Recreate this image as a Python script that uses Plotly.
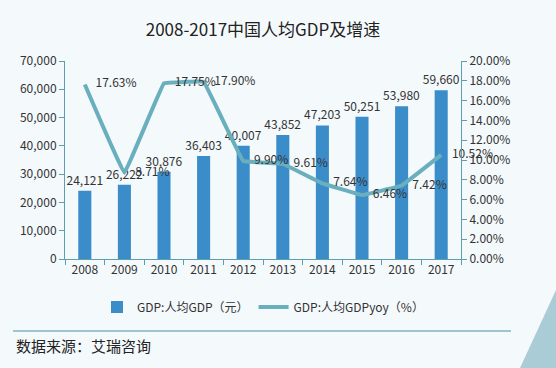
import plotly.graph_objects as go

years = ["2008", "2009", "2010", "2011", "2012", "2013", "2014", "2015", "2016", "2017"]
gdp_per_capita = [24121, 26222, 30876, 36403, 40007, 43852, 47203, 50251, 53980, 59660]
gdp_yoy = [17.63, 8.71, 17.75, 17.90, 9.90, 9.61, 7.64, 6.46, 7.42, 10.52]

bar_name = "GDP:人均GDP（元）"
line_name = "GDP:人均GDPyoy（%）"
title = "2008-2017中国人均GDP及增速"
source = "数据来源：艾瑞咨询"

W, H = 556, 368
L, R, T, B = 65, 95, 61, 109
pw, ph = W - L - R, H - T - B

def px_x(x):
    return (x - L) / pw

def px_y(y):
    return (H - B - y) / ph

FONT = "Noto Sans CJK SC, DejaVu Sans, sans-serif"
axis_color = "#5e9fae"
text_color = "#333333"

fig = go.Figure()
fig.add_trace(go.Bar(
    x=years, y=gdp_per_capita, name=bar_name,
    marker=dict(color="#3b8dca", line=dict(width=0)),
    text=[f"{v:,}" for v in gdp_per_capita],
    textposition="outside", cliponaxis=False, constraintext="none",
    textfont=dict(size=12, color=text_color, family=FONT),
    yaxis="y",
))
fig.add_trace(go.Scatter(
    x=years, y=[v / 100 for v in gdp_yoy], name=line_name,
    mode="lines+text",
    line=dict(color="#6aafbd", width=4, shape="spline", smoothing=0.12),
    text=[f"    {v:.2f}%" for v in gdp_yoy],
    textposition="middle right", cliponaxis=False,
    textfont=dict(size=12, color=text_color, family=FONT),
    yaxis="y2",
))

fig.update_layout(
    width=W, height=H,
    margin=dict(l=L, r=R, t=T, b=B, autoexpand=False),
    paper_bgcolor="#f4f9fc",
    plot_bgcolor="rgba(0,0,0,0)",
    font=dict(family=FONT, size=12, color=text_color),
    title=dict(text=title, x=px_x(263), xref="paper", xanchor="center",
               y=1 - 30 / H, yref="container", yanchor="middle",
               font=dict(size=17, color="#222222", family=FONT)),
    bargap=0.67,
    showlegend=True,
    legend=dict(orientation="h", x=0.5, xanchor="center", y=px_y(307), yanchor="middle",
                font=dict(size=12, color=text_color), bgcolor="rgba(0,0,0,0)",
                itemwidth=30, traceorder="normal"),
    xaxis=dict(type="category", showline=True, linecolor=axis_color, linewidth=1,
               ticks="outside", tickson="boundaries", ticklen=5, tickcolor=axis_color,
               showgrid=False, tickfont=dict(size=12, color=text_color)),
    yaxis=dict(range=[0, 70000], dtick=10000, tickformat=",", showline=True,
               linecolor=axis_color, ticks="outside", ticklen=5, tickcolor=axis_color,
               showgrid=False, zeroline=False, tickfont=dict(size=12, color=text_color)),
    yaxis2=dict(range=[0, 0.2], dtick=0.02, tickformat=".2%", overlaying="y", side="right",
                showline=True, linecolor=axis_color, ticks="outside", ticklen=5,
                tickcolor=axis_color, showgrid=False, zeroline=False,
                tickfont=dict(size=12, color=text_color)),
    shapes=[
        dict(type="line", xref="paper", yref="paper", x0=px_x(13), x1=px_x(511),
             y0=px_y(331), y1=px_y(331), line=dict(color="#4f8fa8", width=1)),
        dict(type="path", xref="paper", yref="paper",
             path=f"M {px_x(520)},{px_y(368)} L {px_x(556)},{px_y(290)} L {px_x(556)},{px_y(368)} Z",
             fillcolor="#a9ccd6", line=dict(width=0), layer="below"),
    ],
    annotations=[
        dict(text=source, xref="paper", yref="paper", x=px_x(14), y=px_y(345),
             xanchor="left", yanchor="middle", showarrow=False,
             font=dict(size=15, color="#222222", family=FONT)),
    ],
)

fig.write_html("out.html", config={"displayModeBar": False},
               post_script="document.body.style.margin='0';document.body.style.padding='0';")
